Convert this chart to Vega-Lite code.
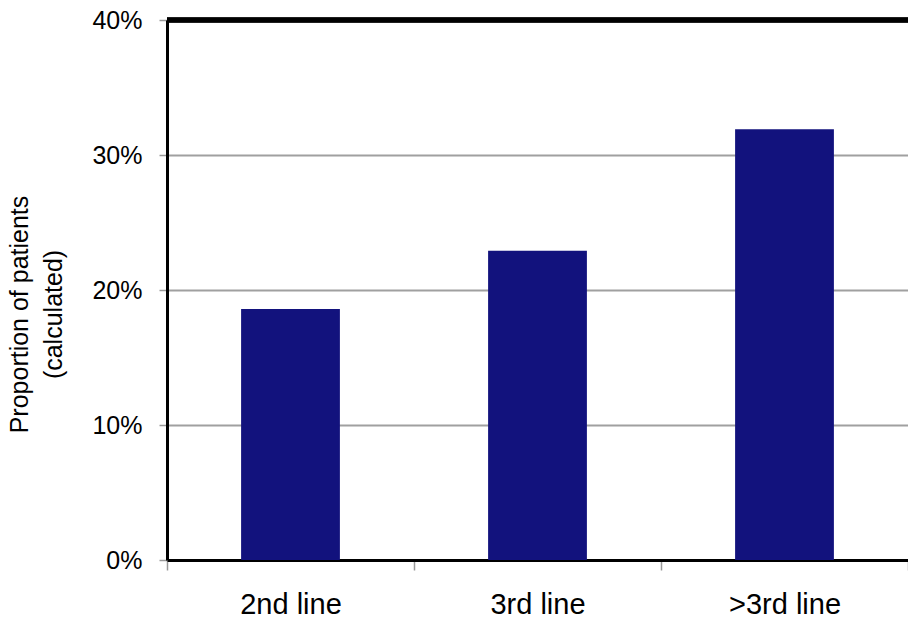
{
  "$schema": "https://vega.github.io/schema/vega-lite/v6.json",
  "width": 741,
  "height": 540,
  "autosize": {"type": "none"},
  "padding": {"left": 167, "top": 20, "right": 0, "bottom": 60},
  "background": "white",
  "config": {"view": {"stroke": null}, "font": "Liberation Sans"},
  "data": {
    "values": [
      {"line": "2nd line", "proportion": 0.186},
      {"line": "3rd line", "proportion": 0.229},
      {"line": ">3rd line", "proportion": 0.319}
    ]
  },
  "layer": [
    {
      "mark": {"type": "bar", "color": "#12127D", "width": {"band": 0.4}},
      "encoding": {
        "x": {
          "field": "line",
          "type": "nominal",
          "sort": null,
          "scale": {"paddingInner": 0, "paddingOuter": 0},
          "axis": {
            "title": null,
            "labelAngle": 0,
            "labelFontSize": 29,
            "labelColor": "black",
            "labelPadding": 20,
            "tickSize": 10,
            "tickColor": "#999999",
            "tickWidth": 1.5,
            "tickBand": "extent",
            "domainColor": "black",
            "domainWidth": 3
          }
        },
        "y": {
          "field": "proportion",
          "type": "quantitative",
          "scale": {"domain": [0, 0.4]},
          "axis": {
            "title": ["Proportion of patients", "(calculated)"],
            "titleFontSize": 25,
            "titleFontWeight": "normal",
            "titleColor": "black",
            "titleLineHeight": 34,
            "titlePadding": 25,
            "titleY": 294,
            "values": [0, 0.1, 0.2, 0.3, 0.4],
            "format": ".0%",
            "labelFontSize": 25,
            "labelColor": "black",
            "labelPadding": 17,
            "tickSize": 8,
            "tickColor": "#999999",
            "tickWidth": 1.5,
            "domainColor": "black",
            "domainWidth": 3,
            "grid": true,
            "gridColor": "#a0a0a0",
            "gridWidth": 2
          }
        }
      }
    },
    {
      "mark": {"type": "rule", "color": "black", "strokeWidth": 5},
      "encoding": {"y": {"datum": 0.4, "type": "quantitative"}}
    }
  ]
}
